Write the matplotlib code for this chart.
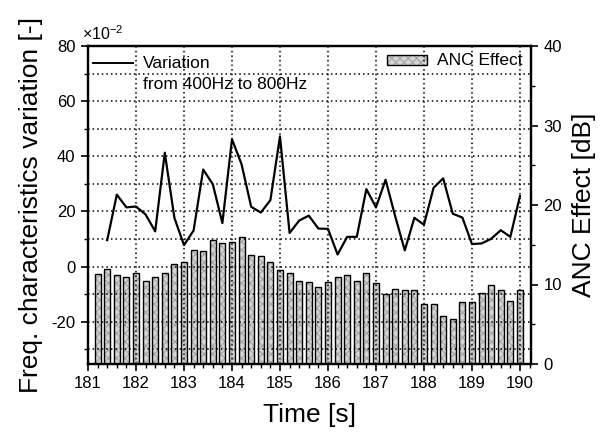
import numpy as np
import matplotlib.pyplot as plt
from matplotlib.patches import Rectangle
from matplotlib.ticker import MultipleLocator

plt.rcParams['font.family'] = ['Liberation Sans', 'DejaVu Sans']
plt.rcParams['mathtext.fontset'] = 'custom'
plt.rcParams['mathtext.rm'] = 'Liberation Sans'
plt.rcParams['axes.unicode_minus'] = False
plt.rcParams['hatch.linewidth'] = 0.8

# Freq. characteristics variation (x1e-2), every 0.2 s from 181.4 s
var_time = np.round(np.arange(181.4, 190.01, 0.2), 1)
variation = [9.6, 26.1, 21.5, 21.8, 18.9, 12.8, 41.3, 17.7, 7.8, 13.1,
             35.2, 29.9, 15.8, 46.2, 37.1, 21.7, 19.6, 24.1, 47.2, 12.2,
             16.7, 18.5, 13.8, 13.7, 4.4, 10.8, 10.8, 28.1, 21.5, 31.5,
             18.3, 5.9, 17.7, 15.2, 28.6, 32.0, 19.2, 17.8, 8.2, 8.4,
             10.1, 13.2, 10.8, 25.6]

# ANC effect [dB], every 0.2 s from 181.2 s
anc_time = np.round(np.arange(181.2, 190.01, 0.2), 1)
anc_effect = [11.3, 12.0, 11.2, 10.9, 11.4, 10.5, 10.9, 11.5, 12.6, 12.8,
              14.3, 14.2, 15.6, 15.2, 15.3, 16.0, 13.7, 13.6, 12.8, 11.8,
              11.5, 10.5, 10.3, 9.7, 10.3, 11.0, 11.2, 10.5, 11.5, 10.2,
              8.8, 9.4, 9.3, 9.3, 7.6, 7.6, 6.1, 5.6, 7.8, 7.8,
              8.9, 9.9, 9.3, 7.9, 9.3]

BAR_FACE = '#d4d4d4'
BAR_HATCH = '#a4a4a4'

fig = plt.figure(figsize=(6.02, 4.34), dpi=100)
ax = fig.add_axes([88 / 602, 1 - 364 / 434, 443 / 602, 318 / 434])
ax2 = ax.twinx()

# bars behind, line and grid in front
ax.set_zorder(ax2.get_zorder() + 1)
ax.patch.set_visible(False)

ax2.bar(anc_time, anc_effect, width=0.125, color=BAR_FACE, edgecolor=BAR_HATCH,
        hatch='xxxx', linewidth=0)
ax2.bar(anc_time, anc_effect, width=0.125, fill=False, edgecolor='black', linewidth=1.0)

ax.plot(var_time, variation, color='black', linewidth=1.6)

ax.set_xlim(181, 190.23)
ax.set_ylim(-35.3, 80)
ax2.set_ylim(0, 40)

ax.xaxis.set_major_locator(MultipleLocator(1))
ax.xaxis.set_minor_locator(MultipleLocator(0.2))
ax.yaxis.set_major_locator(MultipleLocator(20))
ax.yaxis.set_minor_locator(MultipleLocator(10))
ax2.yaxis.set_major_locator(MultipleLocator(10))
ax2.yaxis.set_minor_locator(MultipleLocator(5))

ax.grid(True, axis='x', which='major', linestyle=(0, (1, 2)), color='black', linewidth=1.1)
ax.grid(True, axis='y', which='both', linestyle=(0, (1, 2)), color='black', linewidth=1.1)

for a in (ax, ax2):
    for s in a.spines.values():
        s.set_linewidth(1.6)
    a.tick_params(which='major', direction='out', length=5, width=1.2, labelsize=12, pad=4)
    a.tick_params(which='minor', direction='out', length=3, width=1.0)

ax.set_xlabel('Time [s]', fontsize=19, labelpad=8)
ax.set_ylabel('Freq. characteristics variation [-]', fontsize=19, labelpad=6)
ax2.set_ylabel('ANC Effect [dB]', fontsize=19, labelpad=7)

ax.text(-0.013, 1.01, r'$\times10^{-2}$', transform=ax.transAxes, fontsize=11.5,
        ha='left', va='bottom')

# legend for the line (upper left)
ax.plot([0.0113, 0.1016], [0.9465, 0.9465], transform=ax.transAxes,
        color='black', linewidth=1.4, clip_on=False)
ax.text(0.1242, 0.9465, 'Variation', transform=ax.transAxes, fontsize=12.5,
        ha='left', va='center')
ax.text(0.1242, 0.8805, 'from 400Hz to 800Hz', transform=ax.transAxes, fontsize=12.5,
        ha='left', va='center')

# legend for the bars (upper right)
ax.add_patch(Rectangle((0.675, 0.940), 0.09, 0.032, transform=ax.transAxes,
                       facecolor=BAR_FACE, edgecolor=BAR_HATCH, hatch='xxxx',
                       linewidth=0))
ax.add_patch(Rectangle((0.675, 0.940), 0.09, 0.032, transform=ax.transAxes,
                       fill=False, edgecolor='black', linewidth=1.0))
ax.text(0.788, 0.955, 'ANC Effect', transform=ax.transAxes, fontsize=12.5,
        ha='left', va='center')

fig.savefig('out.png', dpi=100)
